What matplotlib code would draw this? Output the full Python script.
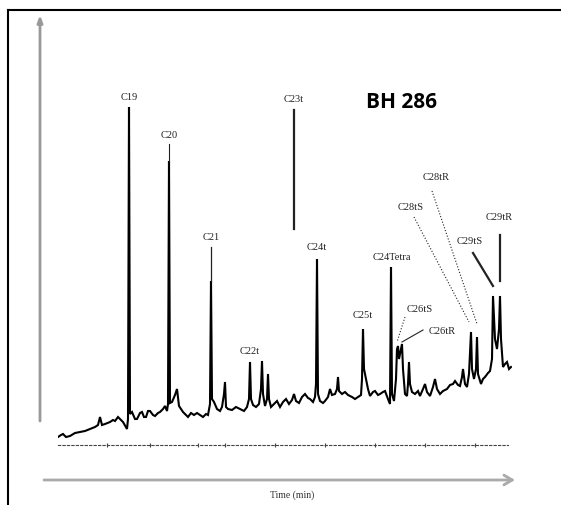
import matplotlib.pyplot as plt
from matplotlib.lines import Line2D

# retention time (min) and detector response (arbitrary units)
time = [20.0, 20.3, 20.5, 20.8, 21.2, 21.7, 22.2, 22.7, 23.2, 23.7, 24.0, 24.2, 24.4,
        24.7, 25.2, 25.5, 25.7, 26.0, 26.2, 26.5, 26.9, 27.0, 27.1, 27.2, 27.4, 27.7,
        27.9, 28.2, 28.4, 28.6, 28.8, 29.0, 29.2, 29.5, 29.7, 30.0, 30.2, 30.5, 30.7,
        30.9, 31.0, 31.1, 31.2, 31.4, 31.7, 31.9, 32.1, 32.3, 32.5, 32.8, 33.0, 33.3,
        33.6, 33.9, 34.2, 34.5, 34.8, 35.0, 35.2, 35.3, 35.4, 35.6, 35.9, 36.2, 36.4,
        36.6, 36.7, 36.8, 37.0, 37.4, 37.8, 38.2, 38.6, 38.9, 39.1, 39.2, 39.3, 39.5,
        39.8, 40.1, 40.3, 40.4, 40.5, 40.7, 40.9, 41.0, 41.1, 41.3, 41.6, 41.9, 42.2,
        42.5, 42.8, 43.1, 43.4, 43.6, 43.8, 44.1, 44.4, 44.7, 45.0, 45.2, 45.5, 45.7,
        45.8, 45.9, 46.0, 46.2, 46.5, 46.7, 47.0, 47.2, 47.4, 47.7, 47.9, 48.0, 48.1,
        48.4, 48.7, 49.0, 49.4, 49.7, 50.0, 50.3, 50.4, 50.5, 50.6, 50.8, 51.0, 51.2,
        51.5, 51.7, 52.0, 52.2, 52.5, 52.7, 53.0, 53.2, 53.3, 53.4, 53.6, 53.8, 53.9,
        54.0, 54.1, 54.3, 54.4, 54.5, 54.7, 54.9, 55.0, 55.1, 55.2, 55.4, 55.7, 56.0,
        56.2, 56.5, 56.7, 56.9, 57.2, 57.5, 57.7, 57.9, 58.2, 58.5, 58.9, 59.2, 59.5,
        59.7, 60.0, 60.2, 60.4, 60.5, 60.7, 60.9, 61.1, 61.3, 61.4, 61.6, 61.8, 61.9,
        62.0, 62.3, 62.5, 62.7, 63.0, 63.2, 63.4, 63.5, 63.7, 63.9, 64.1, 64.2, 64.3,
        64.5, 64.7, 64.9, 65.1, 65.3]
signal = [8, 10, 11, 8, 9, 12, 13, 14, 16, 18, 20, 28, 20,
          21, 23, 25, 24, 28, 26, 23, 16, 26, 338, 31, 33, 26,
          26, 32, 33, 28, 28, 34, 34, 30, 29, 32, 33, 36, 39,
          34, 41, 284, 42, 43, 50, 56, 39, 36, 33, 30, 28, 32,
          30, 32, 30, 28, 31, 30, 41, 164, 46, 43, 36, 34, 38,
          51, 63, 38, 36, 35, 38, 36, 34, 38, 46, 83, 46, 40,
          38, 41, 56, 84, 51, 39, 46, 71, 46, 38, 41, 44, 38,
          43, 46, 41, 45, 51, 44, 42, 48, 51, 47, 46, 43, 48,
          61, 186, 51, 44, 42, 44, 48, 56, 50, 51, 56, 68, 54,
          51, 53, 50, 48, 46, 48, 50, 66, 116, 76, 66, 56, 49,
          53, 54, 50, 51, 53, 54, 46, 41, 178, 51, 44, 66, 96,
          99, 86, 96, 101, 76, 51, 49, 61, 83, 61, 53, 51, 54,
          49, 56, 61, 53, 49, 58, 66, 56, 51, 54, 56, 60, 61,
          64, 60, 59, 68, 76, 61, 58, 71, 113, 76, 66, 76, 108,
          71, 61, 66, 68, 72, 74, 86, 149, 106, 96, 116, 149, 106,
          78, 81, 83, 76, 78]

# peak labels: name, label position, leader start, leader end, leader style
labels = ["C19", "C20", "C21", "C22t", "C23t", "C24t", "C25t", "C24Tetra",
          "C26tS", "C26tR", "C28tS", "C28tR", "C29tS", "C29tR"]
label_t = [27.1, 31.1, 35.3, 39.2, 43.6, 45.9, 50.5, 53.4, 56.2, 58.4, 55.3, 57.8, 61.2, 64.1]
label_s = [349, 310, 209, 94, 346, 198, 131, 188, 136, 115, 239, 268, 205, 228]
leaders = [None,
           ((31.1, 301), (31.1, 284), "-", 0.8),
           ((35.3, 198), (35.3, 164), "-", 0.9),
           None,
           ((43.6, 335), (43.6, 216), "-", 1.6),
           None, None, None,
           ((54.7, 128), (53.9, 103), ":", 0.8),
           ((56.5, 115), (54.4, 103), "-", 0.8),
           ((55.6, 228), (61.1, 123), ":", 0.8),
           ((57.4, 254), (61.9, 121), ":", 0.8),
           ((61.5, 192), (63.5, 159), "-", 1.6),
           ((64.2, 210), (64.2, 164), "-", 1.6)]

W, H = 561, 506
fig = plt.figure(figsize=(W / 100, H / 100), dpi=100)
ax = fig.add_axes([58 / W, 60 / H, 454 / W, 436 / H])
ax.set_xlim(20, 65.4)
ax.set_ylim(0, 436)

ax.plot(time, signal, color="black", lw=1.5, solid_joinstyle="miter")

for name, t, s, ld in zip(labels, label_t, label_s, leaders):
    ax.text(t, s, name, ha="center", va="center", fontsize=7.5,
            family="Liberation Serif", color="#222")
    if ld is not None:
        (t0, s0), (t1, s1), ls, lw = ld
        ax.plot([t0, t1], [s0, s1], color="#222", ls=ls, lw=lw)

ax.text(54.4, 344, "BH 286", ha="center", va="center", fontsize=15,
        fontweight="bold", family="Open Sans", color="black")

# axes decoration: dotted time baseline and hand-drawn arrows
for side in ["top", "right", "left"]:
    ax.spines[side].set_visible(False)
ax.spines["bottom"].set_linestyle((0, (2, 2)))
ax.spines["bottom"].set_color("#444")
ax.spines["bottom"].set_linewidth(0.8)
ax.spines["bottom"].set_bounds(20, 65.0)
ax.set_xticks([24.9, 29.2, 34.0, 36.7, 41.7, 46.7, 51.7, 56.7, 61.7])
ax.set_yticks([])
ax.tick_params(axis="x", length=2.5, width=0.8, color="#444", direction="inout",
               labelbottom=False)

ax.annotate("", xy=(18.2, 430), xytext=(18.2, 24), annotation_clip=False,
            arrowprops=dict(arrowstyle="-|>,head_length=0.4,head_width=0.15",
                            color="#999", lw=2, shrinkA=0, shrinkB=0))
ax.annotate("", xy=(65.7, -35), xytext=(18.6, -35), annotation_clip=False,
            arrowprops=dict(arrowstyle="->,head_length=0.6,head_width=0.35",
                            color="#aaa", lw=2, shrinkA=0, shrinkB=0))
ax.text(43.4, -49, "Time (min)", ha="center", va="center", fontsize=7,
        family="Liberation Serif", color="#333", clip_on=False)

# outer frame (top and left edges visible)
fig.add_artist(Line2D([8 / W, 1], [1 - 11 / H, 1 - 11 / H], color="black", lw=1.5))
fig.add_artist(Line2D([8 / W, 8 / W], [0, 1 - 11 / H], color="black", lw=1.5))

fig.savefig("out.png", dpi=100)
